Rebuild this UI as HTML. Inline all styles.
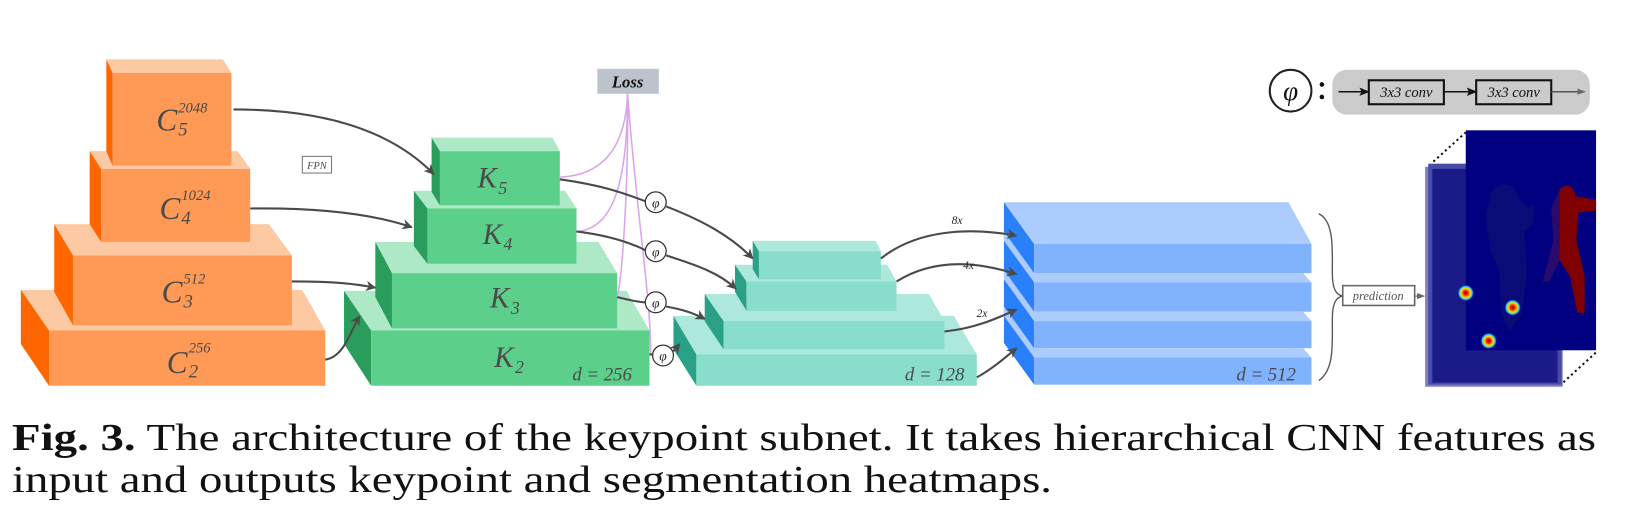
<!DOCTYPE html>
<html><head><meta charset="utf-8"><style>
html,body{margin:0;padding:0;background:#fff;}
svg{display:block;}
.lab{font-family:"Liberation Serif",serif;font-style:italic;fill:#4a4a4a;}
</style></head><body>
<svg width="1634" height="521" viewBox="0 0 1634 521" xmlns="http://www.w3.org/2000/svg">
<defs>
<marker id="ah" markerWidth="10" markerHeight="10" refX="9" refY="5" orient="auto" markerUnits="userSpaceOnUse"><path d="M0,0 L10,5 L0,10 L3,5 Z" fill="#4a4a4a"/></marker>
<marker id="ahb" markerWidth="10" markerHeight="8" refX="9" refY="4" orient="auto" markerUnits="userSpaceOnUse"><path d="M0,0 L10,4 L0,8 L2,4 Z" fill="#111"/></marker>
<marker id="ahg" markerWidth="8" markerHeight="6" refX="7" refY="3" orient="auto" markerUnits="userSpaceOnUse"><path d="M0,0 L8,3 L0,6 Z" fill="#666"/></marker>
<radialGradient id="blob"><stop offset="0" stop-color="#8b0000"/><stop offset="0.3" stop-color="#ff3000"/><stop offset="0.55" stop-color="#ffe000"/><stop offset="0.8" stop-color="#20c0ff"/><stop offset="1" stop-color="#0000a0" stop-opacity="0"/></radialGradient>
</defs>

<g transform="scale(1.0425)">
<!-- Orange blocks -->
<polygon points="20,278 290,278 312,317 47,317" fill="#fdc9a3"/>
<polygon points="20,278 47,317 47,370 20,330" fill="#ff6600"/>
<rect x="47" y="317" width="265" height="53" fill="#fe9a56"/>
<polygon points="52,215 258,215 280,245 70,245" fill="#fdc9a3"/>
<polygon points="52,215 70,245 70,312 52,280" fill="#ff6600"/>
<rect x="70" y="245" width="210" height="67" fill="#fe9a56"/>
<polygon points="86,145 228,145 240,162 97,162" fill="#fdc9a3"/>
<polygon points="86,145 97,162 97,232 86,215" fill="#ff6600"/>
<rect x="97" y="162" width="143" height="70" fill="#fe9a56"/>
<polygon points="102,57 214,57 222,70 108,70" fill="#fdc9a3"/>
<polygon points="102,57 108,70 108,159 102,145" fill="#ff6600"/>
<rect x="108" y="70" width="114" height="89" fill="#fe9a56"/>
<g class="lab" font-size="30">
<text x="150" y="125">C</text><text x="171" y="108" font-size="14">2048</text><text x="171" y="130" font-size="18">5</text>
<text x="153" y="210">C</text><text x="174" y="192" font-size="14">1024</text><text x="174" y="215" font-size="18">4</text>
<text x="155" y="290">C</text><text x="176" y="272" font-size="14">512</text><text x="176" y="295" font-size="18">3</text>
<text x="160" y="358">C</text><text x="181" y="338" font-size="14">256</text><text x="181" y="362" font-size="18">2</text>
</g>
<rect x="290" y="150" width="28" height="16" fill="#fff" stroke="#777" stroke-width="1"/>
<text x="304" y="162" text-anchor="middle" class="lab" font-size="10">FPN</text>

<!-- Green blocks -->
<polygon points="330,279 601,279 623,317 356,317" fill="#aee9c7"/>
<polygon points="330,279 356,317 356,370 330,330" fill="#2a9d5c"/>
<rect x="356" y="317" width="267" height="53" fill="#5ccf8b"/>
<polygon points="360,232 574,232 592,262 376,262" fill="#aee9c7"/>
<polygon points="360,232 376,262 376,315 360,285" fill="#2a9d5c"/>
<rect x="376" y="262" width="216" height="53" fill="#5ccf8b"/>
<polygon points="397,183 542,183 553,200 410,200" fill="#aee9c7"/>
<polygon points="397,183 410,200 410,253 397,236" fill="#2a9d5c"/>
<rect x="410" y="200" width="143" height="53" fill="#5ccf8b"/>
<polygon points="414,132 530,132 537,145 422,145" fill="#aee9c7"/>
<polygon points="414,132 422,145 422,197 414,184" fill="#2a9d5c"/>
<rect x="422" y="145" width="115" height="52" fill="#5ccf8b"/>
<g class="lab" font-size="28">
<text x="458" y="180">K</text><text x="478" y="186" font-size="17">5</text>
<text x="463" y="234">K</text><text x="483" y="240" font-size="17">4</text>
<text x="470" y="295">K</text><text x="490" y="301" font-size="17">3</text>
<text x="474" y="352">K</text><text x="494" y="358" font-size="17">2</text>
<text x="549" y="365" font-size="18">d = 256</text>
</g>

<!-- Teal blocks -->
<polygon points="646,303 915,303 937,340 668,340" fill="#ade8dc"/>
<polygon points="646,303 668,340 668,370 646,335" fill="#2aa086"/>
<rect x="668" y="340" width="269" height="30" fill="#88ddcb"/>
<polygon points="676,282 891,282 906,308 694,308" fill="#ade8dc"/>
<polygon points="676,282 694,308 694,335 676,308" fill="#2aa086"/>
<rect x="694" y="308" width="212" height="27" fill="#88ddcb"/>
<polygon points="705,254 851,254 860,270 716,270" fill="#ade8dc"/>
<polygon points="705,254 716,270 716,298 705,280" fill="#2aa086"/>
<rect x="716" y="270" width="144" height="28" fill="#88ddcb"/>
<polygon points="722,231 840,231 845,241 728,241" fill="#ade8dc"/>
<polygon points="722,231 728,241 728,268 722,258" fill="#2aa086"/>
<rect x="728" y="241" width="117" height="27" fill="#88ddcb"/>
<text x="868" y="365" class="lab" font-size="18">d = 128</text>

<!-- Blue blocks -->
<polygon points="963,194 992,234 992,369 963,329" fill="#2a7ffa"/>
<polygon points="963,194 1236,194 1258,234 992,234" fill="#acccfe"/>
<rect x="992" y="234" width="266" height="28" fill="#80b2fe"/>
<polygon points="963,222 992,262 992,271 963,231" fill="#acccfe"/>
<polygon points="992,262 1250,262 1258,271 992,271" fill="#acccfe"/>
<rect x="992" y="271" width="266" height="28" fill="#80b2fe"/>
<polygon points="963,259 992,299 992,308 963,268" fill="#acccfe"/>
<polygon points="992,299 1250,299 1258,308 992,308" fill="#acccfe"/>
<rect x="992" y="308" width="266" height="26" fill="#80b2fe"/>
<polygon points="963,294 992,334 992,343 963,303" fill="#acccfe"/>
<polygon points="992,334 1250,334 1258,343 992,343" fill="#acccfe"/>
<rect x="992" y="343" width="266" height="26" fill="#80b2fe"/>
<text x="1186" y="365" class="lab" font-size="18">d = 512</text>

<!-- Loss -->
<rect x="573" y="66" width="59" height="24" fill="#bcc3cc"/>
<text x="602" y="84" text-anchor="middle" font-family="Liberation Serif,serif" font-style="italic" font-weight="bold" font-size="16" fill="#111">Loss</text>
<g fill="none" stroke="#d9a6ea" stroke-width="1.5">
<path d="M602,90 C600,140 580,168 537,170"/>
<path d="M602,90 C602,170 590,220 553,222"/>
<path d="M602,90 C603,190 596,270 592,285"/>
<path d="M602,90 C610,200 625,290 624,340"/>
</g>

<!-- connectors -->
<g fill="none" stroke="#4a4a4a" stroke-width="2" marker-end="url(#ah)">
<path d="M224,105 C320,105 380,130 416,167"/>
<path d="M240,200 C310,199 360,206 395,218"/>
<path d="M280,270 C320,270 340,272 360,276"/>
<path d="M312,345 C330,342 335,320 345,303"/>
<path d="M639,198 C670,210 700,225 722,248"/>
<path d="M639,245 C670,255 690,262 706,277"/>
<path d="M639,294 C655,297 665,300 676,306"/>
<path d="M646,337 L652,330"/>
<path d="M845,248 C880,220 930,218 975,226"/>
<path d="M860,270 C895,248 935,250 975,263"/>
<path d="M906,318 C935,315 955,306 975,297"/>
<path d="M937,362 C950,355 962,345 975,334"/>
</g>
<g fill="none" stroke="#4a4a4a" stroke-width="2">
<path d="M537,172 C580,178 600,186 619,193"/>
<path d="M553,222 C585,226 605,233 619,240"/>
<path d="M592,285 C605,288 612,290 619,290"/>
<path d="M623,340 L626,340"/>
</g>
<g fill="#fff" stroke="#333" stroke-width="1.2">
<circle cx="629" cy="194" r="10"/><circle cx="629" cy="241" r="10"/><circle cx="629" cy="290" r="10"/><circle cx="636" cy="341" r="10"/>
</g>
<g font-family="Liberation Serif,DejaVu Serif,serif" font-style="italic" font-size="13" fill="#222" text-anchor="middle">
<text x="629" y="199">φ</text><text x="629" y="246">φ</text><text x="629" y="295">φ</text><text x="636" y="346">φ</text>
</g>
<g font-family="Liberation Serif,serif" font-style="italic" font-size="11" fill="#222" text-anchor="middle">
<text x="918" y="215">8x</text><text x="929" y="258">4x</text><text x="942" y="304">2x</text>
</g>

<!-- brace + prediction -->
<path d="M1265,205 C1280,212 1278,240 1278,262 C1278,278 1282,283 1288,284 C1282,285 1278,290 1278,306 C1278,330 1280,355 1265,365" fill="none" stroke="#555" stroke-width="1.3"/>
<rect x="1288" y="274" width="69" height="19" fill="#fff" stroke="#666" stroke-width="1.5"/>
<text x="1322" y="288" text-anchor="middle" font-family="Liberation Serif,serif" font-style="italic" font-size="12" fill="#555">prediction</text>
<path d="M1357,284 L1366,284" stroke="#666" stroke-width="1" marker-end="url(#ahg)"/>

<!-- heatmaps -->
<line x1="1375" y1="155" x2="1406" y2="127" stroke="#111" stroke-width="2" stroke-dasharray="2,3"/>
<line x1="1496" y1="370" x2="1531" y2="338" stroke="#111" stroke-width="2" stroke-dasharray="2,3"/>
<rect x="1367" y="160" width="132" height="211" fill="#8080c0"/>
<rect x="1370" y="157" width="128" height="212" fill="#4a4aa8"/>
<rect x="1374" y="162" width="120" height="205" fill="#1a1a88"/>
<rect x="1406" y="125" width="125" height="211" fill="#000080"/>
<path d="M1430,185 C1440,172 1455,175 1456,190 L1466,200 L1472,195 L1470,215 L1462,222 L1465,260 L1460,300 L1448,318 L1440,300 L1438,260 L1430,240 L1425,210 Z" fill="#0b0b78"/>
<path d="M1496,182 C1502,175 1510,178 1511,188 L1531,192 L1531,202 L1514,204 L1512,230 L1520,265 L1520,300 L1513,300 L1506,265 L1496,250 L1492,240 L1496,220 Z" fill="#800000"/>
<path d="M1496,182 L1496,250 L1486,270 L1480,270 L1490,230 L1488,200 Z" fill="#2a0a6a"/>
<circle cx="1406" cy="281" r="8" fill="url(#blob)"/>
<circle cx="1451" cy="295" r="8" fill="url(#blob)"/>
<circle cx="1428" cy="327" r="8" fill="url(#blob)"/>

<!-- phi legend -->
<circle cx="1238" cy="87" r="20" fill="#fff" stroke="#222" stroke-width="2"/>
<text x="1238" y="96" text-anchor="middle" font-family="Liberation Serif,DejaVu Serif,serif" font-style="italic" font-size="26" fill="#111">φ</text>
<circle cx="1268" cy="81" r="2.2" fill="#111"/><circle cx="1268" cy="93" r="2.2" fill="#111"/>
<rect x="1278" y="67" width="247" height="43" rx="14" fill="#cbcbcb"/>
<line x1="1284" y1="88" x2="1313" y2="88" stroke="#111" stroke-width="1.5" marker-end="url(#ahb)"/>
<rect x="1313" y="77" width="72" height="23" fill="none" stroke="#111" stroke-width="2"/>
<text x="1349" y="93" text-anchor="middle" font-family="Liberation Serif,serif" font-style="italic" font-size="14" fill="#111">3x3 conv</text>
<line x1="1385" y1="88" x2="1416" y2="88" stroke="#111" stroke-width="1.5" marker-end="url(#ahb)"/>
<rect x="1416" y="77" width="72" height="23" fill="none" stroke="#111" stroke-width="2"/>
<text x="1452" y="93" text-anchor="middle" font-family="Liberation Serif,serif" font-style="italic" font-size="14" fill="#111">3x3 conv</text>
<line x1="1488" y1="88" x2="1520" y2="88" stroke="#555" stroke-width="1.5" marker-end="url(#ahg)"/>
</g>

<!-- caption -->
<text x="12" y="450" font-family="Liberation Serif,serif" font-size="38" fill="#111" textLength="1584" lengthAdjust="spacingAndGlyphs"><tspan font-weight="bold">Fig. 3.</tspan> The architecture of the keypoint subnet. It takes hierarchical CNN features as</text>
<text x="12" y="492" font-family="Liberation Serif,serif" font-size="38" fill="#111" textLength="1040" lengthAdjust="spacingAndGlyphs">input and outputs keypoint and segmentation heatmaps.</text>
</svg>
</body></html>
